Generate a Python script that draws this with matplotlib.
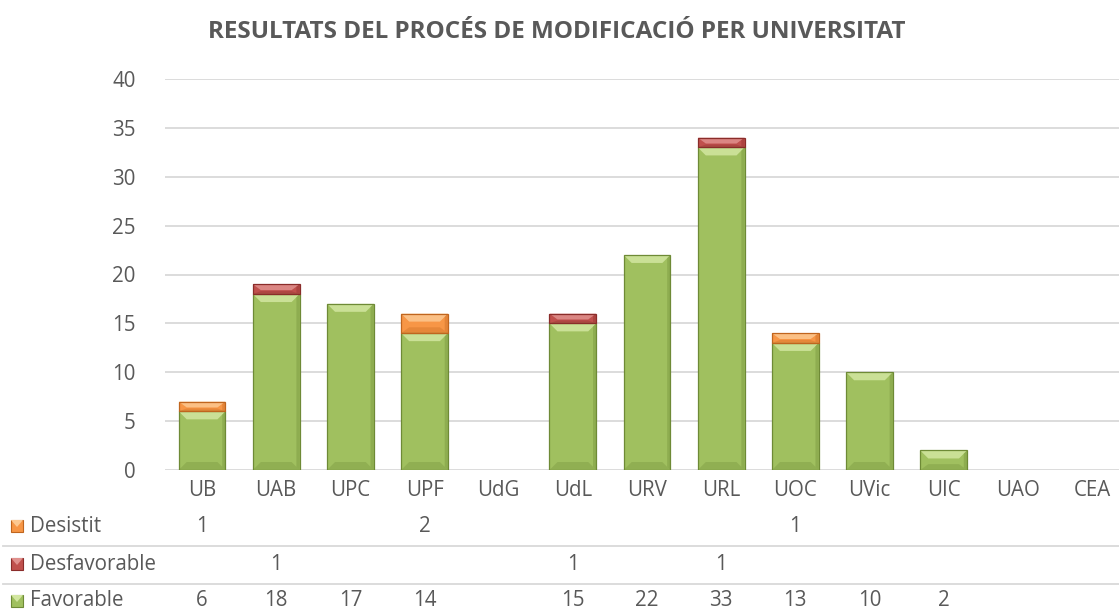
import matplotlib
matplotlib.use("Agg")
import matplotlib.pyplot as plt
from matplotlib.patches import Polygon, Rectangle
from matplotlib.transforms import blended_transform_factory

# ---------------------------------------------------------------------------
# Data
# ---------------------------------------------------------------------------
universities = ["UB", "UAB", "UPC", "UPF", "UdG", "UdL", "URV", "URL",
                "UOC", "UVic", "UIC", "UAO", "CEA"]
favorable = [6, 18, 17, 14, 0, 15, 22, 33, 13, 10, 2, 0, 0]
desfavorable = [0, 1, 0, 0, 0, 1, 0, 1, 0, 0, 0, 0, 0]
desistit = [1, 0, 0, 2, 0, 0, 0, 0, 1, 0, 0, 0, 0]

# (body, light top, dark bottom)
C_FAV = ("#A0C05F", "#D2E6A0", "#6E8A36")
C_DESF = ("#C0504D", "#E0908D", "#8A2C2A")
C_DESI = ("#F79646", "#FCC891", "#C0651E")

TXT = "#595959"
FONT = "Open Sans"
FS = 14.8

W, H, DPI = 1119, 613, 100
fig = plt.figure(figsize=(W / DPI, H / DPI), dpi=DPI)
fig.patch.set_facecolor("white")

# axes placed in pixels: x from 165 to 1129 (runs off the right edge), y 0 at 470, 40 at 79
ax = fig.add_axes([165 / W, (H - 470) / H, 964 / W, (470 - 79) / H])
ax.set_xlim(-0.5, len(universities) - 0.5)
ax.set_ylim(0, 40)
for s in ax.spines.values():
    s.set_visible(False)
ax.set_yticks(range(0, 41, 5))
ax.set_yticklabels([str(v) for v in range(0, 41, 5)], fontsize=FS,
                   color=TXT, family=FONT)
ax.tick_params(axis="y", length=0, pad=21)
ax.set_xticks([])
ax.yaxis.grid(True, color="#D9D9D9", linewidth=1.3)
ax.set_axisbelow(True)

BW = 0.63
px_x = 964 / len(universities)   # pixels per category
px_y = (470 - 79) / 40           # pixels per unit
BEV = 8


def bevel_bar(x, y0, h, colors):
    if h <= 0:
        return
    body, light, dark = colors
    x0, x1 = x - BW / 2, x + BW / 2
    y1 = y0 + h
    dx = BEV / px_x
    dy = min(BEV / px_y, h * 0.6)
    ax.add_patch(Rectangle((x0, y0), BW, h, facecolor=body, edgecolor="none", zorder=2))
    # top highlight
    ax.add_patch(Polygon([(x0, y1), (x1, y1), (x1 - dx, y1 - dy), (x0 + dx, y1 - dy)],
                         facecolor=light, edgecolor="none", alpha=0.85, zorder=3))
    # bottom shade
    dyb = min(BEV / px_y, h * 0.3)
    ax.add_patch(Polygon([(x0, y0), (x1, y0), (x1 - dx, y0 + dyb), (x0 + dx, y0 + dyb)],
                         facecolor=dark, edgecolor="none", alpha=0.3, zorder=3))
    # right side shade
    ax.add_patch(Polygon([(x1, y0), (x1 - dx * 0.4, y0 + dyb * 0.4),
                          (x1 - dx * 0.4, y1 - dy * 0.4), (x1, y1)],
                         facecolor=dark, edgecolor="none", alpha=0.35, zorder=3))
    ax.add_patch(Rectangle((x0, y0), BW, h, facecolor="none", edgecolor=dark,
                           linewidth=0.9, zorder=4))


for i in range(len(universities)):
    bevel_bar(i, 0, favorable[i], C_FAV)
    bevel_bar(i, favorable[i], desfavorable[i], C_DESF)
    bevel_bar(i, favorable[i] + desfavorable[i], desistit[i], C_DESI)

# title
fig.text(557 / W, 1 - 32 / H, "RESULTATS DEL PROCÉS DE MODIFICACIÓ PER UNIVERSITAT",
         ha="center", va="center", fontsize=17.5, fontweight="bold", color=TXT, family=FONT)

# ---------------------------------------------------------------------------
# Data table below the axis
# ---------------------------------------------------------------------------
tr = blended_transform_factory(ax.transData, fig.transFigure)
for i, u in enumerate(universities):
    fig.text(i, 1 - 491 / H, u, transform=tr, ha="center", va="center",
             fontsize=FS, color=TXT, family=FONT)

rows = [("Desistit", desistit, C_DESI, 526),
        ("Desfavorable", desfavorable, C_DESF, 564),
        ("Favorable", favorable, C_FAV, 601)]
for name, vals, cols, ypx in rows:
    yf = 1 - ypx / H
    fig.patches.append(Rectangle((11 / W, yf - 6 / H), 12 / W, 12 / H, transform=fig.transFigure,
                                 facecolor=cols[0], edgecolor=cols[2], linewidth=0.8))
    fig.patches.append(Polygon([(11 / W, yf + 6 / H), (23 / W, yf + 6 / H), (17 / W, yf - 1 / H)],
                               transform=fig.transFigure, facecolor=cols[1], edgecolor="none"))
    fig.text(30 / W, yf, name, ha="left", va="center", fontsize=FS, color=TXT, family=FONT)
    for i, v in enumerate(vals):
        if v:
            fig.text(i, yf, str(v), transform=tr, ha="center", va="center",
                     fontsize=FS, color=TXT, family=FONT)

for ypx in (546, 584):
    fig.add_artist(plt.Line2D([3 / W, 1], [1 - ypx / H] * 2, transform=fig.transFigure,
                              color="#D9D9D9", linewidth=1.3))

fig.savefig("out.png", dpi=DPI)
